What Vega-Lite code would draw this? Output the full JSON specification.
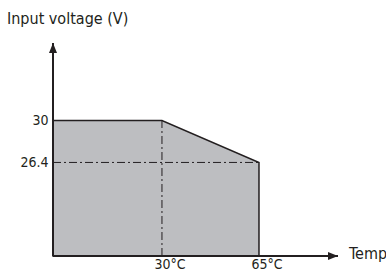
{
  "$schema": "https://vega.github.io/schema/vega-lite/v6.json",
  "width": 285,
  "height": 213,
  "autosize": {"type": "none"},
  "padding": {"left": 53, "top": 43, "right": 48, "bottom": 17},
  "background": "white",
  "config": {"view": {"stroke": null}, "font": "DejaVu Sans Condensed"},
  "title": {"text": "Input voltage (V)", "anchor": "start", "frame": "group", "dx": -46, "offset": 2, "baseline": "alphabetic", "fontSize": 16, "fontWeight": "normal", "color": "#231f20", "font": "DejaVu Sans Condensed"},
  "datasets": {
    "curve": [
      {"temp": -9.3, "volt": 30, "base": 18.38},
      {"temp": 30, "volt": 30, "base": 18.38},
      {"temp": 65, "volt": 26.4, "base": 18.38}
    ],
    "hline": [{"x1": -9.3, "x2": 65, "y": 26.4}],
    "vline": [{"x": 30, "y1": 18.38, "y2": 30}],
    "yaxis": [{"x": -9.3, "y1": 18.38, "y2": 36.64}],
    "xaxis": [{"x1": -9.3, "x2": 93.5, "y": 18.38}],
    "yarrow": [{"x": -9.3, "y": 36.64}],
    "xarrow": [{"x": 93.5, "y": 18.38, "label": "Temp"}]
  },
  "layer": [
    {
      "data": {"name": "curve"},
      "mark": {"type": "area", "color": "#bdbec1", "stroke": "#231f20", "strokeWidth": 1.5, "interpolate": "linear"},
      "encoding": {
        "x": {"field": "temp", "type": "quantitative", "scale": {"domain": [-9.3, 93.5], "nice": false, "zero": false},
          "axis": {"values": [30, 65], "labelExpr": "datum.value + '°C'", "domain": false, "ticks": false, "grid": false, "title": null, "labelFontSize": 14, "labelColor": "#231f20", "labelAlign": "left", "labelOffset": -8, "labelPadding": 1, "labelFont": "DejaVu Sans Condensed"}},
        "y": {"field": "volt", "type": "quantitative", "scale": {"domain": [18.38, 36.64], "nice": false, "zero": false},
          "axis": {"values": [26.4, 30], "labelExpr": "datum.value == 30 ? '30' : '26.4'", "domain": false, "ticks": false, "grid": false, "title": null, "labelFontSize": 14, "labelColor": "#231f20", "labelPadding": 5, "labelFont": "DejaVu Sans Condensed"}},
        "y2": {"field": "base"}
      }
    },
    {
      "data": {"name": "hline"},
      "mark": {"type": "rule", "color": "#231f20", "strokeWidth": 1, "strokeDash": [8, 3, 2, 3]},
      "encoding": {"x": {"field": "x1", "type": "quantitative"}, "x2": {"field": "x2"}, "y": {"field": "y", "type": "quantitative"}}
    },
    {
      "data": {"name": "vline"},
      "mark": {"type": "rule", "color": "#231f20", "strokeWidth": 1, "strokeDash": [8, 3, 2, 3]},
      "encoding": {"x": {"field": "x", "type": "quantitative"}, "y": {"field": "y1", "type": "quantitative"}, "y2": {"field": "y2"}}
    },
    {
      "data": {"name": "yaxis"},
      "mark": {"type": "rule", "color": "#231f20", "strokeWidth": 2},
      "encoding": {"x": {"field": "x", "type": "quantitative"}, "y": {"field": "y1", "type": "quantitative"}, "y2": {"field": "y2"}}
    },
    {
      "data": {"name": "xaxis"},
      "mark": {"type": "rule", "color": "#231f20", "strokeWidth": 2},
      "encoding": {"x": {"field": "x1", "type": "quantitative"}, "x2": {"field": "x2"}, "y": {"field": "y", "type": "quantitative"}}
    },
    {
      "data": {"name": "yarrow"},
      "mark": {"type": "point", "shape": "M0,0L-0.8,2L0.8,2Z", "size": 100, "filled": true, "color": "#231f20", "opacity": 1},
      "encoding": {"x": {"field": "x", "type": "quantitative"}, "y": {"field": "y", "type": "quantitative"}}
    },
    {
      "data": {"name": "xarrow"},
      "mark": {"type": "point", "shape": "M0,0L-2,-0.8L-2,0.8Z", "size": 100, "filled": true, "color": "#231f20", "opacity": 1},
      "encoding": {"x": {"field": "x", "type": "quantitative"}, "y": {"field": "y", "type": "quantitative"}}
    },
    {
      "data": {"name": "xarrow"},
      "mark": {"type": "text", "align": "left", "baseline": "middle", "dx": 11, "dy": -2, "fontSize": 16, "color": "#231f20", "font": "DejaVu Sans Condensed"},
      "encoding": {"x": {"field": "x", "type": "quantitative"}, "y": {"field": "y", "type": "quantitative"}, "text": {"field": "label"}}
    }
  ]
}
